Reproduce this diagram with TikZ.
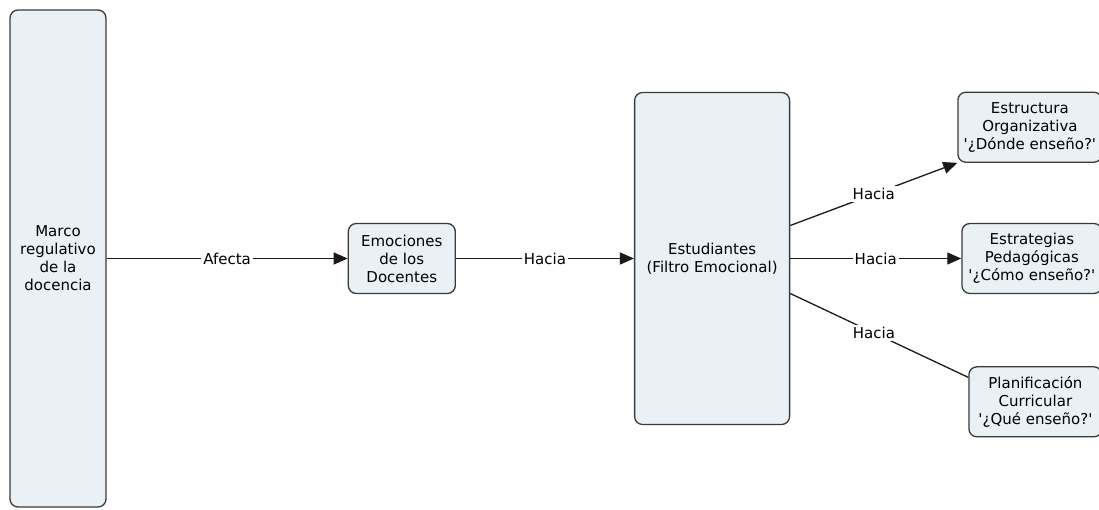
\documentclass[tikz,border=0pt]{standalone}
\usepackage{fontspec}
\setmainfont{DejaVu Sans}[Ligatures=TeXOff]
\usepackage{xcolor}
\usepackage{tikz}
\usetikzlibrary{arrows.meta,positioning}
\definecolor{boxfill}{HTML}{EAF1F4}
\definecolor{boxline}{HTML}{3A3A3A}
\definecolor{linegray}{HTML}{1A1A1A}
\tikzset{
  concept/.style={draw=boxline, line width=1.3pt, rounded corners=8pt, align=center, fill=boxfill, inner sep=4pt, font=\fontsize{15}{18}\selectfont},
  arrow/.style={-{Triangle[length=14pt,width=12pt]}, line width=1.3pt, draw=linegray},
  link/.style={line width=1.3pt, draw=linegray},
  linklabel/.style={fill=white, inner sep=2pt, font=\fontsize{15}{18}\selectfont}
}
\begin{document}
\begin{tikzpicture}
  \useasboundingbox (0,0) rectangle (1099pt,-509pt);
  \node[concept, minimum width=96pt, minimum height=497pt] (marco) at (58pt,-258.5pt) {Marco\\regulativo\\de la\\docencia};
  \node[concept, minimum width=107pt, minimum height=70pt, right=241pt of marco] (emociones) {Emociones\\de los\\Docentes};
  \node[concept, minimum width=155pt, minimum height=332pt, right=178pt of emociones] (estudiantes) {Estudiantes\\(Filtro Emocional)};
  \node[concept, minimum width=140pt, minimum height=70pt, right=171pt of estudiantes] (estrategias) {Estrategias\\Pedagógicas\\'¿Cómo enseño?'};
  \node[concept, minimum width=144pt, minimum height=70pt, above=60pt of estrategias.north east, anchor=south east] (estructura) {Estructura\\Organizativa\\'¿Dónde enseño?'};
  \node[concept, minimum width=133pt, minimum height=70pt, below=72pt of estrategias.south east, anchor=north east] (planificacion) {Planificación\\Curricular\\'¿Qué enseño?'};

  \draw[arrow] (marco) -- node[linklabel] {Afecta} (emociones);
  \draw[arrow] (emociones) -- node[linklabel] {Hacia} (estudiantes);
  \draw[arrow] ([yshift=33pt]estudiantes.east) -- node[linklabel] {Hacia} (estructura.south west);
  \draw[arrow] (estudiantes.east) -- node[linklabel] {Hacia} (estrategias);
  \draw[link] ([yshift=-35pt]estudiantes.east) -- node[linklabel, pos=0.47] {Hacia} (planificacion.160);
\end{tikzpicture}
\end{document}
